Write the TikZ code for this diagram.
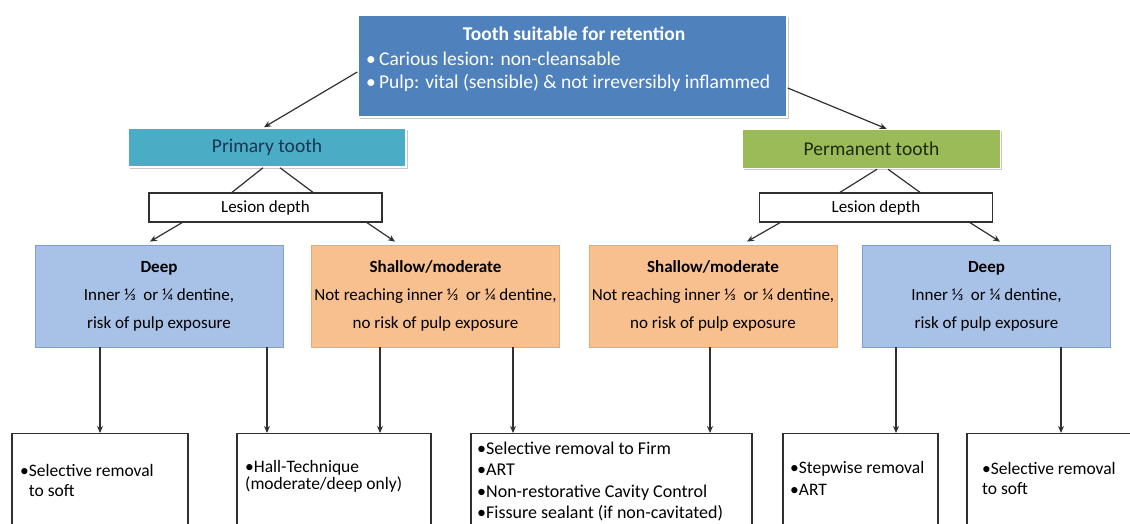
\documentclass[tikz,border=0pt]{standalone}
\usepackage{fontspec}
\setmainfont{Carlito}
\usetikzlibrary{arrows.meta,shadows}
\definecolor{ctopblue}{HTML}{4F81BD}
\definecolor{cteal}{HTML}{4BACC6}
\definecolor{cgreen}{HTML}{9BBB59}
\definecolor{cdeep}{HTML}{A8C1E7}
\definecolor{cdeepline}{HTML}{7F9ED0}
\definecolor{corange}{HTML}{F9C08F}
\definecolor{corangeline}{HTML}{E9AB76}
\definecolor{cline}{HTML}{303030}
\definecolor{cnavy}{HTML}{1B3553}
\definecolor{cdkgreen}{HTML}{1E2A12}
\begin{document}
\begin{tikzpicture}[x=1pt,y=-1pt,
  shade/.style={drop shadow={shadow xshift=1.5pt,shadow yshift=-1.5pt,opacity=0.3,fill=black!70}},
  topbox/.style={shade,fill=ctopblue,draw=white,line width=1.5pt,inner sep=0pt},
  kindbox/.style={shade,draw=white,line width=1.5pt,inner sep=0pt,minimum height=39pt,font=\fontsize{19.5}{22}\selectfont},
  lesbox/.style={draw=cline,line width=1.3pt,fill=white,minimum width=233pt,minimum height=29pt,inner sep=0pt,font=\fontsize{17}{20}\selectfont},
  deepbox/.style={fill=cdeep,draw=cdeepline,line width=0.8pt,minimum width=248pt,minimum height=102pt,inner sep=0pt,align=center,font=\fontsize{17}{28}\selectfont},
  shalbox/.style={fill=corange,draw=corangeline,line width=0.8pt,minimum width=248pt,minimum height=102pt,inner sep=0pt,align=center,font=\fontsize{17}{28}\selectfont},
  outbox/.style={draw=cline,line width=1.4pt,minimum height=120pt,inner sep=0pt,anchor=north},
  outtext/.style={anchor=west,align=left,inner sep=0pt,font=\fontsize{17.5}{20}\selectfont},
  conn/.style={draw=cline,line width=1.2pt},
  arr/.style={conn,-{Stealth[length=7pt,width=6pt]}}
]
\clip (0,0) rectangle (1130,523);
\useasboundingbox (0,0) rectangle (1130,523);

% top box
\node[topbox,minimum width=429pt,minimum height=102pt] (top) at (572.5,66) {};
\node[text=white,inner sep=0pt,font=\bfseries\fontsize{19.5}{22}\selectfont] (toptitle) at (574,34) {Tooth suitable for retention};
\node[text=white,anchor=west,inner sep=0pt,font=\fontsize{19.5}{22}\selectfont] (topb1) at (366,59) {•\,Carious lesion: non-cleansable};
\node[text=white,anchor=west,inner sep=0pt,font=\fontsize{19.5}{22}\selectfont] (topb2) at (366,83) {•\,Pulp: vital (sensible) \& not irreversibly inflammed};

% tooth type
\node[kindbox,fill=cteal,text=cnavy,minimum width=278pt] (prim) at (267,147.5) {Primary tooth};
\node[kindbox,fill=cgreen,text=cdkgreen,minimum width=258pt] (perm) at (871.5,149) {Permanent tooth};

\draw[arr] ([yshift=-6pt]top.west) -- ([xshift=-3pt]prim.north);
\draw[arr] ([yshift=-22pt]top.east) -- ([xshift=15pt]perm.north);

% lesion depth
\node[lesbox] (lesL) at (265.5,207.5) {Lesion depth};
\node[lesbox] (lesR) at (876,207.5) {Lesion depth};

\draw[conn] ([xshift=-4pt]prim.south) -- ([xshift=-33.5pt]lesL.north);
\draw[conn] ([xshift=13pt]prim.south) -- ([xshift=47.5pt]lesL.north);
\draw[conn] ([xshift=5.5pt]perm.south) -- ([xshift=-36pt]lesR.north);
\draw[conn] ([xshift=16.5pt]perm.south) -- ([xshift=44pt]lesR.north);

% depth boxes
\node[deepbox] (deepL) at (159,296) {\textbf{Deep}\\Inner ⅓~ or ¼ dentine,\\risk of pulp exposure};
\node[shalbox] (shalL) at (435.5,296) {\textbf{Shallow/moderate}\\Not reaching inner ⅓~ or ¼ dentine,\\no risk of pulp exposure};
\node[shalbox] (shalR) at (713,296) {\textbf{Shallow/moderate}\\Not reaching inner ⅓~ or ¼ dentine,\\no risk of pulp exposure};
\node[deepbox] (deepR) at (986.5,296) {\textbf{Deep}\\Inner ⅓~ or ¼ dentine,\\risk of pulp exposure};

\draw[arr] ([xshift=-83.5pt]lesL.south) -- ([xshift=-9pt,yshift=3pt]deepL.north);
\draw[arr] ([xshift=101.5pt]lesL.south) -- ([xshift=-40.5pt,yshift=3pt]shalL.north);
\draw[arr] ([xshift=-96pt]lesR.south) -- ([xshift=34pt,yshift=3pt]shalR.north);
\draw[arr] ([xshift=94pt]lesR.south) -- ([xshift=13.5pt,yshift=3pt]deepR.north);

% output boxes
\node[outbox,minimum width=176pt] (o1) at (100,433) {};
\node[outbox,minimum width=194pt] (o2) at (334,433) {};
\node[outbox,minimum width=281pt] (o3) at (611.5,433) {};
\node[outbox,minimum width=155pt] (o4) at (860.5,433) {};
\node[outbox,minimum width=173pt] (o5) at (1053.5,433) {};

\coordinate (x1) at (100,0);
\coordinate (x2) at (267,0);
\coordinate (x3) at (380,0);
\coordinate (x4) at (513,0);
\coordinate (x5) at (710,0);
\coordinate (x6) at (896,0);
\coordinate (x7) at (1061,0);
\draw[arr] (deepL.south -| x1) -- (o1.north -| x1);
\draw[arr] (deepL.south -| x2) -- (o2.north -| x2);
\draw[arr] (shalL.south -| x3) -- (o2.north -| x3);
\draw[arr] (shalL.south -| x4) -- (o3.north -| x4);
\draw[arr] (shalR.south -| x5) -- (o3.north -| x5);
\draw[arr] (deepR.south -| x6) -- (o4.north -| x6);
\draw[arr] (deepR.south -| x7) -- (o5.north -| x7);

\node[outtext] (t1) at (20,480) {•Selective removal\\\hphantom{•}to soft};
\node[outtext,font=\fontsize{17.5}{16.5}\selectfont] (t2) at (245,476.5) {•Hall-Technique\\(moderate/deep only)};
\node[outtext,font=\fontsize{18}{21.5}\selectfont] (t3) at (477,481.5) {•Selective removal to Firm\\•ART\\•Non-restorative Cavity Control\\•Fissure sealant (if non-cavitated)};
\node[outtext,font=\fontsize{17.5}{22}\selectfont] (t4) at (790,478) {•Stepwise removal\\•ART};
\node[outtext] (t5) at (982,478.5) {•Selective removal\\to soft};
\end{tikzpicture}
\end{document}
